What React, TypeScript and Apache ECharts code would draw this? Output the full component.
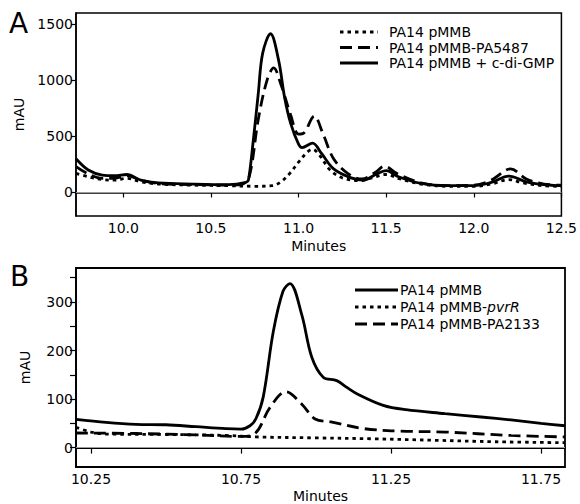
import React, { useEffect, useRef } from "react";
import * as echarts from "echarts";

// ---------- Panel A data (time in minutes, absorbance in mAU) ----------
const aTimeDotted = [9.73, 9.8, 9.88, 9.95, 10.02, 10.1, 10.2, 10.4, 10.6, 10.75, 10.85, 10.9, 10.95, 11.0, 11.05, 11.08, 11.12, 11.18, 11.25, 11.35, 11.42, 11.5, 11.58, 11.7, 11.85, 12.0, 12.1, 12.2, 12.28, 12.4, 12.5];
const aDotted = [170, 140, 115, 110, 125, 95, 75, 65, 60, 55, 60, 95, 170, 270, 360, 385, 330, 200, 130, 105, 130, 160, 120, 75, 55, 55, 75, 115, 85, 60, 55];

const aTimeDashed = [9.73, 9.8, 9.88, 9.95, 10.02, 10.1, 10.2, 10.4, 10.6, 10.68, 10.72, 10.77, 10.82, 10.858, 10.9, 10.955, 11.0, 11.03, 11.09, 11.14, 11.2, 11.28, 11.36, 11.44, 11.49, 11.56, 11.7, 11.85, 12.0, 12.1, 12.21, 12.3, 12.4, 12.5];
const aDashed = [230, 165, 125, 125, 150, 110, 80, 70, 65, 75, 150, 650, 1000, 1110, 960, 690, 520, 530, 680, 520, 300, 170, 120, 180, 235, 170, 85, 60, 65, 110, 210, 120, 75, 65];

const aTimeSolid = [9.73, 9.8, 9.88, 9.95, 10.02, 10.1, 10.2, 10.4, 10.6, 10.7, 10.714, 10.74, 10.77, 10.795, 10.84, 10.886, 10.92, 10.955, 11.0, 11.02, 11.08, 11.13, 11.2, 11.3, 11.37, 11.44, 11.5, 11.57, 11.7, 11.85, 12.0, 12.1, 12.2, 12.3, 12.4, 12.5];
const aSolid = [300, 200, 155, 150, 160, 110, 85, 75, 70, 90, 110, 440, 880, 1240, 1415, 1180, 850, 615, 430, 400, 440, 350, 210, 130, 110, 160, 195, 140, 80, 60, 60, 90, 145, 95, 70, 60];

const aLegend = ["PA14 pMMB", "PA14 pMMB-PA5487", "PA14 pMMB + c-di-GMP"];
const aXTicks = [10.0, 10.5, 11.0, 11.5, 12.0, 12.5];
const aYTicks = [0, 500, 1000, 1500];

// ---------- Panel B data ----------
const bTimeSolid = [10.2, 10.3, 10.4, 10.5, 10.6, 10.7, 10.75, 10.78, 10.8, 10.824, 10.858, 10.89, 10.913, 10.952, 10.986, 11.024, 11.069, 11.1, 11.136, 11.224, 11.3, 11.43, 11.55, 11.65, 11.75, 11.83];
const bSolid = [58, 52, 48, 47, 43, 39, 38, 45, 60, 104, 240, 322, 338, 275, 186, 145, 138, 125, 111, 87, 78, 70, 63, 57, 50, 45];

const bTimeDotted = [10.2, 10.25, 10.3, 10.5, 10.7, 10.8, 11.0, 11.2, 11.4, 11.6, 11.83];
const bDotted = [42, 32, 28, 27, 25, 22, 20, 18, 15, 12, 10];

const bTimeDashed = [10.2, 10.4, 10.6, 10.75, 10.797, 10.847, 10.9, 10.952, 10.997, 11.05, 11.16, 11.28, 11.43, 11.65, 11.83];
const bDashed = [30, 29, 26, 23, 29, 83, 115, 90, 59, 53, 39, 34, 32, 25, 22];

const bLegendPlain = ["PA14 pMMB", "PA14 pMMB-", "PA14 pMMB-PA2133"];
const bLegendItalic = ["", "pvrR", ""];
const bXTicks = [10.25, 10.75, 11.25, 11.75];
const bYTicks = [0, 100, 200, 300];
const bYMinor = [0, 50, 100, 150, 200, 250, 300, 350];

const FONT = "DejaVu Sans";
const DOT = [3.5, 4];
const DASH = [12, 6];

function pairs(t: number[], v: number[]) {
  return t.map((x, i) => [x, v[i]]);
}

export default function App() {
  const ref = useRef<HTMLDivElement>(null);

  useEffect(() => {
    if (!ref.current) return;
    const chart = echarts.init(ref.current, undefined, { renderer: "svg" });

    const axisCommon = {
      axisLine: { show: true, lineStyle: { color: "#000", width: 1.5 } },
      splitLine: { show: false },
      axisLabel: { color: "#000", fontFamily: FONT, fontSize: 14 },
    };

    const lineSeries = (name: string, xi: number, data: number[][], type: any, extra: any = {}) => ({
      type: "line",
      name,
      xAxisIndex: xi,
      yAxisIndex: xi,
      data,
      smooth: 0.35,
      symbol: "none",
      lineStyle: { color: "#000", width: 2.8, type, cap: "butt" },
      z: 3,
      ...extra,
    });

    const zeroLine = {
      silent: true,
      symbol: "none",
      label: { show: false },
      lineStyle: { color: "#9a9a9a", width: 1, type: "solid" },
      data: [{ yAxis: 0 }],
    };

    const legendStyles = [DOT, DASH, null];
    const legendBStyles = [null, DOT, DASH];
    const aRows = [32, 47.5, 63];
    const bRows = [290, 307, 324];

    const graphics: any[] = [
      { type: "text", left: 9, top: 9, style: { text: "A", font: `28px ${FONT}`, fill: "#000" } },
      { type: "text", left: 10, top: 262, style: { text: "B", font: `28px ${FONT}`, fill: "#000" } },
    ];
    aLegend.forEach((label, i) => {
      graphics.push({
        type: "line",
        shape: { x1: 340, y1: aRows[i], x2: 378, y2: aRows[i] },
        style: { stroke: "#000", lineWidth: 3, lineDash: legendStyles[i] || undefined },
      });
      graphics.push({
        type: "text",
        x: 389,
        y: aRows[i],
        style: { text: label, font: `14px ${FONT}`, fill: "#000", verticalAlign: "middle", align: "left" },
      });
    });
    bLegendPlain.forEach((label, i) => {
      graphics.push({
        type: "line",
        shape: { x1: 355, y1: bRows[i], x2: 398, y2: bRows[i] },
        style: { stroke: "#000", lineWidth: 3, lineDash: legendBStyles[i] || undefined },
      });
      const italic = bLegendItalic[i];
      graphics.push({
        type: "text",
        x: 400,
        y: bRows[i],
        style: {
          text: italic ? `{n|${label}}{i|${italic}}` : `{n|${label}}`,
          rich: {
            n: { fontFamily: FONT, fontSize: 14, fill: "#000", color: "#000" },
            i: { fontFamily: FONT, fontSize: 14, fontStyle: "italic", fill: "#000", color: "#000" },
          },
          verticalAlign: "middle",
          align: "left",
        },
      });
    });

    chart.setOption({
      animation: false,
      backgroundColor: "#fff",
      grid: [
        { left: 76, top: 13, width: 489, height: 203, show: true, borderColor: "#000", borderWidth: 1.5, backgroundColor: "transparent" },
        { left: 76, top: 268, width: 489, height: 200, show: true, borderColor: "#000", borderWidth: 1.8, backgroundColor: "transparent" },
      ],
      xAxis: [
        {
          ...axisCommon,
          gridIndex: 0,
          type: "value",
          min: 9.73,
          max: 12.5,
          name: "Minutes",
          nameLocation: "middle",
          nameGap: 23,
          nameTextStyle: { color: "#000", fontFamily: FONT, fontSize: 14 },
          axisTick: { show: true, length: 5, lineStyle: { color: "#000", width: 1.2 }, customValues: aXTicks },
          axisLabel: { ...axisCommon.axisLabel, margin: 5, customValues: aXTicks, formatter: (v: number) => v.toFixed(1) },
        },
        {
          ...axisCommon,
          gridIndex: 1,
          type: "value",
          min: 10.2,
          max: 11.83,
          name: "Minutes",
          nameLocation: "middle",
          nameGap: 22,
          nameTextStyle: { color: "#000", fontFamily: FONT, fontSize: 14 },
          axisLine: { show: true, lineStyle: { color: "#000", width: 1.8 } },
          axisTick: { show: true, length: 6, lineStyle: { color: "#000", width: 1.2 }, customValues: bXTicks },
          axisLabel: { ...axisCommon.axisLabel, margin: 5, customValues: bXTicks, formatter: (v: number) => v.toFixed(2) },
        },
      ],
      yAxis: [
        {
          ...axisCommon,
          gridIndex: 0,
          type: "value",
          min: -210,
          max: 1600,
          name: "mAU",
          nameLocation: "middle",
          nameGap: 44,
          nameTextStyle: { color: "#000", fontFamily: FONT, fontSize: 14 },
          axisTick: { show: true, length: 5, lineStyle: { color: "#000", width: 1.2 }, customValues: aYTicks },
          axisLabel: { ...axisCommon.axisLabel, margin: 3, customValues: aYTicks, formatter: (v: number) => String(v) },
        },
        {
          ...axisCommon,
          gridIndex: 1,
          type: "value",
          min: -40,
          max: 370,
          name: "mAU",
          nameLocation: "middle",
          nameGap: 44,
          nameTextStyle: { color: "#000", fontFamily: FONT, fontSize: 14 },
          axisLine: { show: true, lineStyle: { color: "#000", width: 1.8 } },
          axisTick: { show: true, length: 6, lineStyle: { color: "#000", width: 1.2 }, customValues: bYMinor },
          axisLabel: { ...axisCommon.axisLabel, margin: 3, customValues: bYTicks, formatter: (v: number) => String(v) },
        },
      ],
      series: [
        lineSeries(aLegend[0], 0, pairs(aTimeDotted, aDotted), DOT, { markLine: zeroLine }),
        lineSeries(aLegend[1], 0, pairs(aTimeDashed, aDashed), DASH),
        lineSeries(aLegend[2], 0, pairs(aTimeSolid, aSolid), "solid"),
        lineSeries("PA14 pMMB", 1, pairs(bTimeSolid, bSolid), "solid", { markLine: zeroLine }),
        lineSeries("PA14 pMMB-pvrR", 1, pairs(bTimeDotted, bDotted), DOT),
        lineSeries("PA14 pMMB-PA2133", 1, pairs(bTimeDashed, bDashed), DASH),
      ],
      graphic: graphics,
    });

    return () => chart.dispose();
  }, []);

  return (
    <div
      ref={ref}
      style={{ position: "fixed", left: 0, top: 0, width: 580, height: 504, background: "#fff" }}
    />
  );
}
